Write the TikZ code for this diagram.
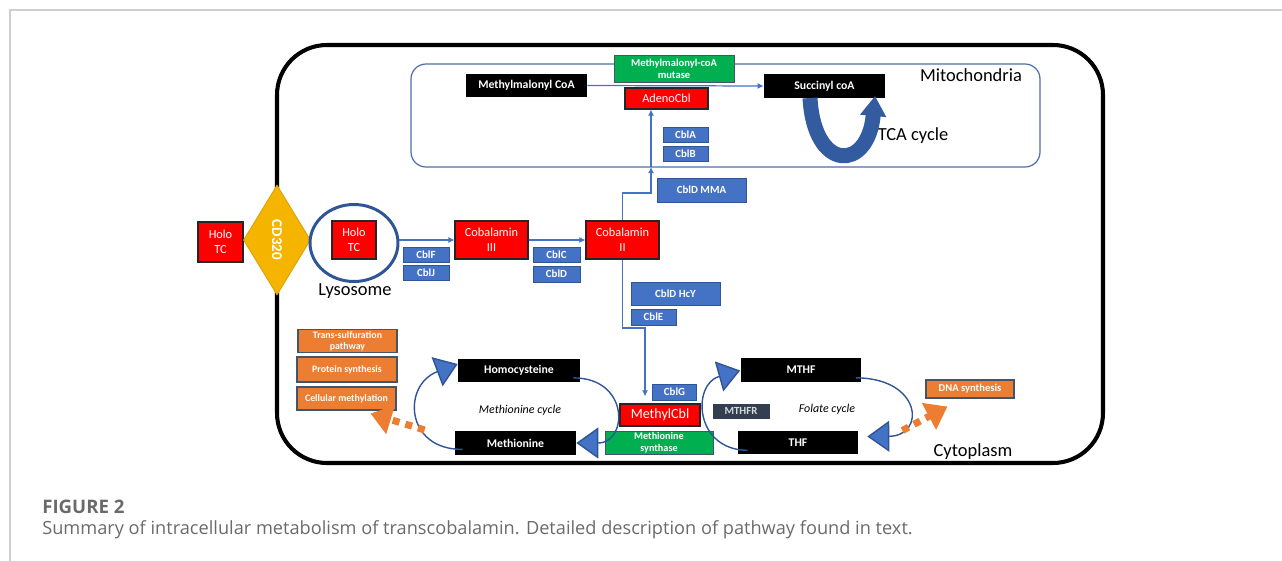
\documentclass[tikz,border=0pt]{standalone}
\usepackage{fontspec}
\setmainfont{Carlito}
\newfontfamily\capfont{Open Sans}
\usetikzlibrary{shapes.geometric, arrows.meta, calc}

\definecolor{cellred}{HTML}{FF0000}
\definecolor{cblblue}{HTML}{4472C4}
\definecolor{cbldark}{HTML}{2F5597}
\definecolor{enzgreen}{HTML}{00B050}
\definecolor{outorange}{HTML}{ED7D31}
\definecolor{outedge}{HTML}{44546A}
\definecolor{cdgold}{HTML}{F5B400}
\definecolor{mitoline}{HTML}{4F6FA8}
\definecolor{slate}{HTML}{333F50}
\definecolor{framegray}{HTML}{CFCFCF}
\definecolor{capgray}{HTML}{6A6A6A}

\tikzstyle{redbox} = [rectangle, draw=black!85, line width=0.6pt, fill=cellred, text=white, align=center, inner sep=0pt, font=\fontsize{7}{8.5}\selectfont]
\tikzstyle{blackbox} = [rectangle, fill=black, text=white, inner sep=0pt, font=\bfseries\fontsize{6.7}{7.5}\selectfont]
\tikzstyle{cblbox} = [rectangle, draw=cbldark, line width=0.5pt, fill=cblblue, text=white, inner sep=0pt, font=\bfseries\fontsize{6.2}{7}\selectfont]
\tikzstyle{enzbox} = [rectangle, draw=outedge, line width=0.5pt, fill=enzgreen, text=white, align=center, inner sep=0pt, font=\bfseries\fontsize{6}{7}\selectfont]
\tikzstyle{outbox} = [rectangle, draw=outedge, line width=0.6pt, fill=outorange, text=white, align=center, inner sep=0pt, font=\bfseries\fontsize{5.6}{6.4}\selectfont]
\tikzstyle{celllabel} = [inner sep=0pt, font=\fontsize{10.5}{12}\selectfont]
\tikzstyle{cyclabel} = [inner sep=0pt, font=\itshape\fontsize{6.8}{8}\selectfont]
\tikzstyle{arrow} = [cblblue, line width=0.7pt, -{Latex[length=3.5pt,width=3.5pt]}]
\tikzstyle{cycarrow} = [cbldark, line width=0.8pt, -{Triangle[length=0.44cm,width=0.62cm,fill=cblblue]}]
\tikzstyle{dotarrow} = [outorange, line width=4pt, dash pattern=on 4pt off 3.5pt, -{Triangle[length=0.42cm,width=0.58cm]}]

\begin{document}
\begin{tikzpicture}[x=0.02cm, y=-0.02cm]
\useasboundingbox (0,0) rectangle (1282,561);
\draw[framegray, line width=0.8pt] (10,561) -- (10,10) -- (1282,10);

% cell and mitochondrion
\draw[line width=2.3pt, rounded corners=1cm] (277,45) rectangle (1103,463);
\draw[mitoline, line width=0.7pt, rounded corners=0.3cm] (411,64) rectangle (1040,167);

% uptake
\node (holo1) [redbox, minimum width=0.9cm, minimum height=0.8cm] at (220.5,242) {Holo\\TC};
\node (cd320) [diamond, draw=cdgold!90!black, line width=0.5pt, fill=cdgold, inner sep=0pt, minimum width=1.34cm, minimum height=2.2cm, aspect=0.6, text=white, font=\bfseries\fontsize{8.5}{10}\selectfont] at (277,240) {\rotatebox{-90}{CD320}};
\node (lyso) [ellipse, draw=cbldark, line width=1.7pt, minimum width=1.76cm, minimum height=1.54cm] at (354,243) {};
\node (holo2) [redbox, minimum width=0.88cm, minimum height=0.76cm] at (354,240) {Holo\\TC};
\node (lysolab) [celllabel] at (355,291) {Lysosome};

\node (cob3) [redbox, minimum width=1.46cm, minimum height=0.76cm] at (491.5,240) {Cobalamin\\III};
\node (cob2) [redbox, minimum width=1.46cm, minimum height=0.76cm] at (622.5,240) {Cobalamin\\II};
\node (cblf) [cblbox, minimum width=0.92cm, minimum height=0.3cm] at (426,254.5) {CblF};
\node (cblj) [cblbox, minimum width=0.92cm, minimum height=0.3cm] at (426,272.5) {CblJ};
\node (cblc) [cblbox, minimum width=0.94cm, minimum height=0.3cm] at (556.5,254.5) {CblC};
\node (cbld) [cblbox, minimum width=0.94cm, minimum height=0.32cm] at (556.5,274) {CblD};

% mitochondrial branch
\node (mmcoa) [blackbox, minimum width=2.42cm, minimum height=0.46cm] at (526.5,85.5) {Methylmalonyl CoA};
\node (succ) [blackbox, minimum width=2.42cm, minimum height=0.48cm] at (824.5,86) {Succinyl coA};
\node (mutase) [enzbox, minimum width=2.4cm, minimum height=0.54cm] at (674,68.5) {Methylmalonyl-coA\\mutase};
\node (adeno) [redbox, minimum width=1.66cm, minimum height=0.42cm] at (666.5,98.5) {AdenoCbl};
\node (cbla) [cblbox, minimum width=0.9cm, minimum height=0.3cm] at (685.5,134.5) {CblA};
\node (cblb) [cblbox, minimum width=0.9cm, minimum height=0.3cm] at (685.5,153.5) {CblB};
\node (cblmma) [cblbox, minimum width=1.78cm, minimum height=0.48cm] at (701.5,190) {CblD MMA};
\node (mitolab) [celllabel] at (971,75) {Mitochondria};
\node (tcalab) [celllabel] at (913,136) {TCA cycle};

% cytoplasmic branch
\node (cblhcy) [cblbox, minimum width=1.78cm, minimum height=0.46cm] at (675.5,293.5) {CblD HcY};
\node (cble) [cblbox, minimum width=0.9cm, minimum height=0.32cm] at (653.5,317) {CblE};
\node (cblg) [cblbox, minimum width=0.88cm, minimum height=0.32cm] at (674.5,392) {CblG};
\node (mcbl) [redbox, minimum width=1.6cm, minimum height=0.44cm, font=\fontsize{8}{9}\selectfont] at (660,415) {MethylCbl};
\node (metsyn) [enzbox, minimum width=2.16cm, minimum height=0.46cm, font=\bfseries\fontsize{5.8}{6.6}\selectfont] at (659,442.5) {Methionine\\synthase};

\node (homocys) [blackbox, minimum width=2.44cm, minimum height=0.46cm] at (519,370) {Homocysteine};
\node (methionine) [blackbox, minimum width=2.42cm, minimum height=0.48cm] at (515.5,443) {Methionine};
\node (metlab) [cyclabel] at (520,410) {Methionine cycle};
\node (trans) [outbox, minimum width=1.98cm, minimum height=0.46cm] at (347.5,341) {Trans-sulfuration\\pathway};
\node (prot) [outbox, minimum width=2cm, minimum height=0.5cm] at (347,369.5) {Protein synthesis};
\node (cellm) [outbox, minimum width=1.98cm, minimum height=0.46cm] at (346.5,398.5) {Cellular methylation};

\node (mthf) [blackbox, minimum width=2.42cm, minimum height=0.48cm] at (801,369.5) {MTHF};
\node (thf) [blackbox, minimum width=2.4cm, minimum height=0.46cm] at (798,442.5) {THF};
\node (mthfr) [rectangle, fill=slate, text=white!85!black, inner sep=0pt, minimum width=1.14cm, minimum height=0.3cm, font=\bfseries\fontsize{6.2}{7}\selectfont] at (741,411) {MTHFR};
\node (follab) [cyclabel] at (827,409) {Folate cycle};
\node (dna) [outbox, minimum width=1.76cm, minimum height=0.36cm, font=\bfseries\fontsize{6}{7}\selectfont] at (970,389) {DNA synthesis};
\node (cytolab) [celllabel] at (973,452) {Cytoplasm};

\coordinate (up1) at (651,193);
\coordinate (mitoin) at (651,167);
\coordinate (down1) at (645,328);

\draw [arrow] (lyso.east |- cob3.west) -- (cob3.west);
\draw [arrow] (cob3.east) -- (cob2.west);
\draw [arrow] (mmcoa.east) -- (succ.west);
\draw [arrow] (cob2.north) |- (up1) -- (mitoin);
\draw [arrow] (mitoin) -- (mitoin |- adeno.south);
\draw [arrow, shorten >=0.14cm] (cob2.south) |- (down1) -- (down1 |- mcbl.north);

% cycles
\draw [cbldark!80!cblblue, line width=0.3cm, -{Triangle[length=0.4cm,width=0.5cm]}] (810,98) .. controls (814,172) and (868,172) .. (875,96);
\draw [cycarrow] ($(homocys.south east)+(-7,-4)$) .. controls (630,378) and (628,443) .. (methionine.east);
\draw [cycarrow] ($(methionine.south west)+(8,-6)$) .. controls (405,450) and (402,385) .. ($(homocys.west)+(0,-6)$);
\draw [cycarrow] ($(mthf.south east)+(-6,-4)$) .. controls (922,378) and (926,436) .. ($(thf.east)+(9,-6)$);
\draw [cycarrow] ($(thf.south west)+(10,-4)$) .. controls (694,450) and (692,384) .. ($(mthf.west)+(0,1)$);
\draw [dotarrow] ($(methionine.west)+(-30,-13)$) -- ($(cellm.south east)+(-26,3)$);
\draw [dotarrow] ($(thf.east)+(44,-12)$) -- ($(dna.south west)+(22,8)$);

% caption
\node (fignum) [anchor=base west, inner sep=0pt, text=capgray, font=\capfont\bfseries\fontsize{10.6}{12}\selectfont] at (42,513) {FIGURE 2};
\node (figtext) [anchor=base west, inner sep=0pt, text=capgray, font=\capfont\fontsize{10.35}{12}\selectfont] at (42,534) {Summary of intracellular metabolism of transcobalamin. Detailed description of pathway found in text.};
\end{tikzpicture}
\end{document}
